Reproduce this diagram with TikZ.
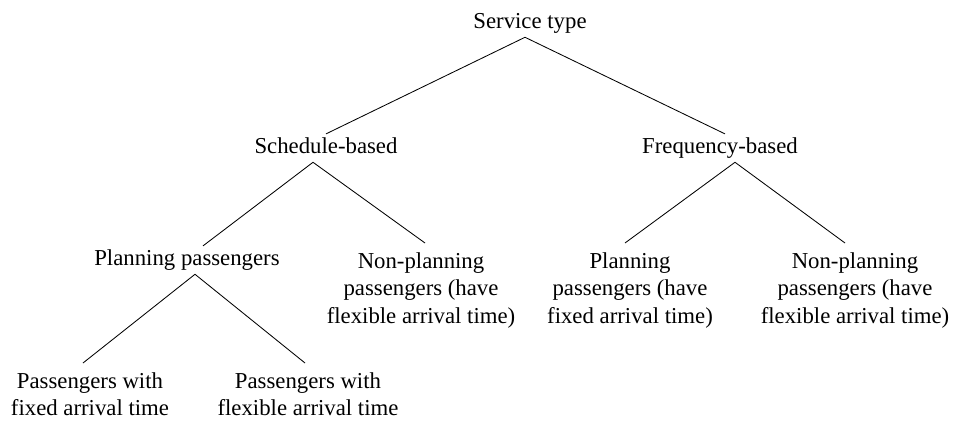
\documentclass[tikz,border=0pt]{standalone}
\usepackage{fontspec}
\setmainfont{Liberation Serif}
\begin{document}
\begin{tikzpicture}[
  lbl/.style={font=\fontsize{16.2}{19.6}\selectfont, align=center,
    inner xsep=0pt, inner ysep=6.4pt},
  oneline/.style={lbl, anchor=base, text height=0.7em, text depth=0pt},
  multiline/.style={lbl, anchor=north},
  branch/.style={line width=0.6pt}]
\useasboundingbox (0,0) rectangle (23.95,10.525);

\node[oneline] (service) at (13.25,9.825) {Service type};

\node[oneline] (sched) at (8.15,6.7) {Schedule-based};
\node[oneline] (freq) at (18,6.7) {Frequency-based};

\node[oneline] (planS) at (4.675,3.9) {Planning passengers};
\node[multiline] (nonplanS) at (10.525,4.45) {Non-planning\\passengers (have\\flexible arrival time)};
\node[multiline] (planF) at (15.75,4.45) {Planning\\passengers (have\\fixed arrival time)};
\node[multiline] (nonplanF) at (21.375,4.45) {Non-planning\\passengers (have\\flexible arrival time)};

\node[multiline] (fixedS) at (2.25,1.45) {Passengers with\\fixed arrival time};
\node[multiline] (flexS) at (7.7,1.45) {Passengers with\\flexible arrival time};

\draw[branch] ([xshift=-1.25mm]service.south) -- (sched.north);
\draw[branch] ([xshift=-1.25mm]service.south) -- ([xshift=1.25mm]freq.north);

\draw[branch] ([xshift=-3.25mm]sched.south) -- ([xshift=4mm]planS.north);
\draw[branch] ([xshift=-3.25mm]sched.south) -- ([xshift=1mm]nonplanS.north);

\draw[branch] ([xshift=3.75mm]freq.south) -- ([xshift=-1.25mm]planF.north);
\draw[branch] ([xshift=3.75mm]freq.south) -- ([xshift=-2.5mm]nonplanF.north);

\draw[branch] ([xshift=2mm]planS.south) -- ([xshift=-1.75mm]fixedS.north);
\draw[branch] ([xshift=2mm]planS.south) -- ([xshift=-0.75mm]flexS.north);

\end{tikzpicture}
\end{document}
